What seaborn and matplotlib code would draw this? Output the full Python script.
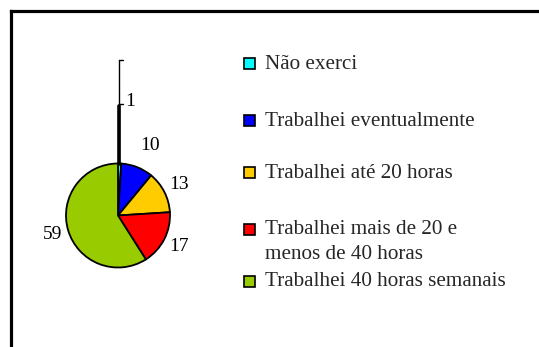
import matplotlib
matplotlib.use("Agg")
import matplotlib.pyplot as plt
from matplotlib.patches import Rectangle
import seaborn as sns

categories = ["Não exerci", "Trabalhei eventualmente", "Trabalhei até 20 horas",
              "Trabalhei mais de 20 e\nmenos de 40 horas", "Trabalhei 40 horas semanais"]
values = [1, 10, 13, 17, 59]
colors = ["#00FFFF", "#0000FF", "#FFCC00", "#FF0000", "#99CC00"]

sns.set_theme(style="white")
plt.rcParams["font.family"] = ["Liberation Serif", "DejaVu Serif"]

W, H = 539, 347
fig = plt.figure(figsize=(W / 100, H / 100), dpi=100)
ax = fig.add_axes([0, 0, 1, 1])

cx, cy, r = 118, H - 215.5, 52
wedges, texts = ax.pie(values, colors=colors, startangle=90, counterclock=False,
                       center=(cx, cy), radius=r, labels=[str(v) for v in values],
                       labeldistance=1.32, frame=True,
                       wedgeprops=dict(edgecolor="black", linewidth=1.3),
                       textprops=dict(fontsize=14, color="black"))
ax.set_xlim(0, W)
ax.set_ylim(0, H)
ax.set_aspect("equal")
ax.axis("off")
for t in texts:
    t.set_ha("center")
    t.set_va("center")
# label "1" sits at the end of its leader line
texts[0].set_position((130, H - 101))
texts[1].set_position((150, H - 145))

# leader line for the tiny slice
ax.plot([119, 119], [H - 60, H - 164], color="black", lw=1.0)
ax.plot([119, 119], [H - 106, H - 164], color="black", lw=2.6)
ax.plot([119, 123], [H - 60, H - 60], color="black", lw=1.0)
ax.plot([119, 123], [H - 104, H - 104], color="black", lw=1.0)

# legend (manual layout)
leg_y = [63.5, 120, 172.5, 229, 281]
for lab, col, y in zip(categories, colors, leg_y):
    ax.add_patch(Rectangle((243.5, H - y - 5.5), 11, 11, facecolor=col,
                           edgecolor="black", lw=1.2))
    ax.text(265, H - y + 8.5, lab, fontsize=15.2, va="top", ha="left",
            linespacing=1.42)

# outer frame
ax.plot([10.5, 10.5], [H - 10.5, 0], color="black", lw=2.3, solid_capstyle="projecting")
ax.plot([10.5, W], [H - 10.5, H - 10.5], color="black", lw=2.3, solid_capstyle="projecting")

fig.savefig("out.png", dpi=100)
